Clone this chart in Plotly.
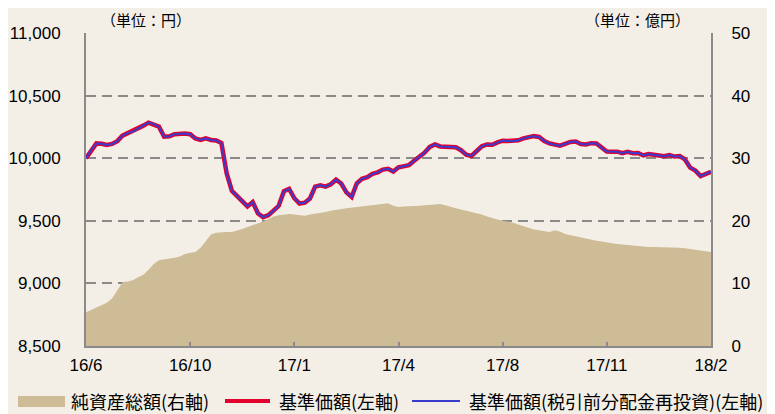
import plotly.graph_objects as go

# ---- data (one value per sampling step, 20 steps per tick interval) ----
tick_labels = ["16/6", "16/10", "17/1", "17/4", "17/8", "17/11", "18/2"]

# 基準価額 (円)
nav = [
    10000, 10066, 10118, 10115, 10106, 10114, 10136, 10180, 10200, 10212,
    10238, 10260, 10284, 10272, 10252, 10172, 10175, 10192, 10196, 10198,
    10192, 10158, 10147, 10158, 10146, 10142, 10121, 9880, 9740, 9698,
    9660, 9615, 9650, 9560, 9529, 9545, 9581, 9620, 9736, 9755,
    9680, 9638, 9645, 9678, 9773, 9784, 9773, 9792, 9828, 9798,
    9727, 9690, 9800, 9835, 9849, 9875, 9887, 9909, 9915, 9893,
    9927, 9936, 9945, 9980, 10010, 10044, 10090, 10110, 10094, 10092,
    10094, 10087, 10064, 10028, 10018, 10055, 10095, 10110, 10107, 10126,
    10140, 10138, 10136, 10143, 10158, 10170, 10176, 10170, 10137, 10118,
    10107, 10100, 10115, 10130, 10133, 10113, 10110, 10120, 10118, 10081,
    10054, 10052, 10052, 10040, 10051, 10040, 10042, 10022, 10033, 10028,
    10022, 10016, 10025, 10013, 10017, 9990, 9925, 9901, 9858, 9875,
    9892,
]

# 基準価額(税引前分配金再投資) — coincides with the 基準価額 line in the chart
nav_reinvested = list(nav)

# 純資産総額 (億円)
net_assets = [
    5.4, 5.8, 6.1, 6.5, 6.9, 7.6, 9.0, 10.2, 10.3, 10.5,
    11.0, 11.4, 12.2, 13.1, 13.7, 13.8, 14.0, 14.1, 14.3, 14.7,
    14.9, 15.0, 15.7, 16.8, 17.8, 18.1, 18.2, 18.2, 18.2, 18.4,
    18.7, 19.0, 19.3, 19.5, 19.9, 20.3, 20.7, 20.9, 21.0, 21.1,
    21.0, 20.9, 20.8, 21.0, 21.1, 21.3, 21.4, 21.6, 21.8, 21.9,
    22.0, 22.1, 22.2, 22.3, 22.4, 22.5, 22.6, 22.7, 22.8, 22.4,
    22.2, 22.3, 22.3, 22.4, 22.4, 22.5, 22.6, 22.7, 22.7, 22.5,
    22.2, 22.0, 21.8, 21.6, 21.4, 21.3, 21.0, 20.7, 20.4, 20.2,
    20.0, 19.9, 19.7, 19.4, 19.1, 18.8, 18.6, 18.5, 18.4, 18.2,
    18.5, 18.3, 17.9, 17.7, 17.5, 17.3, 17.2, 17.0, 16.8, 16.7,
    16.5, 16.4, 16.3, 16.2, 16.1, 16.0, 15.9, 15.8, 15.8, 15.8,
    15.8, 15.8, 15.8, 15.8, 15.7, 15.6, 15.5, 15.4, 15.3, 15.2,
    15.0,
]

left_ticks = [8500, 9000, 9500, 10000, 10500, 11000]
right_ticks = [0, 10, 20, 30, 40, 50]

series_names = ["純資産総額(右軸)", "基準価額(左軸)", "基準価額(税引前分配金再投資)(左軸)"]
series_colors = ["#CDBC96", "#E2002D", "#3B3BD0"]

# ---- figure (page body has an 8px margin, so the figure is 767x406) ----
OFF = 8
W, H = 767, 406
ML, MR, MT, MB = 78, 64, 25, 68
PW, PH = W - ML - MR, H - MT - MB


def px_x(p):  # screenshot pixel -> paper x
    return (p - OFF - ML) / PW


def px_y(p):  # screenshot pixel -> paper y
    return (H - MB - (p - OFF)) / PH


x = list(range(len(nav)))
step = (len(nav) - 1) // (len(tick_labels) - 1)
tick_pos = [i * step for i in range(len(tick_labels))]

BG = "#F3EFE7"
GRID = "#8A8A8A"
JP = "Noto Sans CJK JP"
NUM = "Liberation Sans"

fig = go.Figure()
fig.add_trace(go.Scatter(
    x=x, y=net_assets, name=series_names[0], mode="lines",
    line=dict(width=0, color=series_colors[0]), fill="tozeroy", fillcolor=series_colors[0],
    yaxis="y", hoverinfo="skip", showlegend=False,
))
fig.add_trace(go.Scatter(
    x=x, y=nav, name=series_names[1], mode="lines",
    line=dict(width=4.5, color=series_colors[1]), yaxis="y2", showlegend=False,
))
fig.add_trace(go.Scatter(
    x=x, y=nav_reinvested, name=series_names[2], mode="lines",
    line=dict(width=2, color=series_colors[2]), yaxis="y2", showlegend=False,
))

# legend drawn as shapes + text below the plot
LEG_Y = 401
shapes = [
    dict(type="rect", xref="paper", yref="paper", x0=px_x(18), x1=px_x(65),
         y0=px_y(407), y1=px_y(396), fillcolor=series_colors[0], line=dict(width=0), layer="above"),
    dict(type="line", xref="paper", yref="paper", x0=px_x(225), x1=px_x(270),
         y0=px_y(LEG_Y), y1=px_y(LEG_Y), line=dict(color=series_colors[1], width=4)),
    dict(type="line", xref="paper", yref="paper", x0=px_x(412), x1=px_x(460),
         y0=px_y(LEG_Y), y1=px_y(LEG_Y), line=dict(color=series_colors[2], width=2)),
]
legend_text_left = [69, 277, 467]
annotations = [
    dict(text=name, xref="paper", yref="paper", x=px_x(lx), y=px_y(LEG_Y),
         xanchor="left", yanchor="middle", showarrow=False, font=dict(family=JP, size=18))
    for name, lx in zip(series_names, legend_text_left)
]
annotations += [
    dict(text="（単位：円）", xref="paper", yref="paper", x=px_x(146), y=px_y(19),
         xanchor="center", yanchor="middle", showarrow=False, font=dict(family=JP, size=15)),
    dict(text="（単位：億円）", xref="paper", yref="paper", x=px_x(637), y=px_y(19),
         xanchor="center", yanchor="middle", showarrow=False, font=dict(family=JP, size=15)),
]

fig.update_layout(
    width=W, height=H,
    margin=dict(l=ML, r=MR, t=MT, b=MB, autoexpand=False),
    paper_bgcolor=BG, plot_bgcolor=BG,
    font=dict(family=JP, size=16, color="#000"),
    showlegend=False,
    xaxis=dict(
        range=[0, len(nav) - 1], tickmode="array", tickvals=tick_pos, ticktext=tick_labels,
        showgrid=False, zeroline=False, showline=True, linecolor=GRID, linewidth=2,
        ticks="inside", ticklen=4, tickwidth=1.5, tickcolor=GRID,
        tickfont=dict(family=NUM, size=17), ticklabelstandoff=3,
    ),
    yaxis=dict(
        side="right", range=[0, 50], tickmode="array", tickvals=right_ticks,
        showgrid=False, zeroline=False, showline=True, linecolor=GRID, linewidth=2,
        ticks="", tickfont=dict(family=NUM, size=17), ticklabelstandoff=15,
    ),
    yaxis2=dict(
        side="left", overlaying="y", range=[8500, 11000], tickmode="array",
        tickvals=left_ticks, tickformat=",d",
        showgrid=True, gridcolor=GRID, gridwidth=2, griddash="10px,6px",
        zeroline=False, showline=True, linecolor=GRID, linewidth=2,
        ticks="", tickfont=dict(family=NUM, size=17), ticklabelstandoff=20,
    ),
    shapes=shapes,
    annotations=annotations,
)

fig.write_html("out.html")
